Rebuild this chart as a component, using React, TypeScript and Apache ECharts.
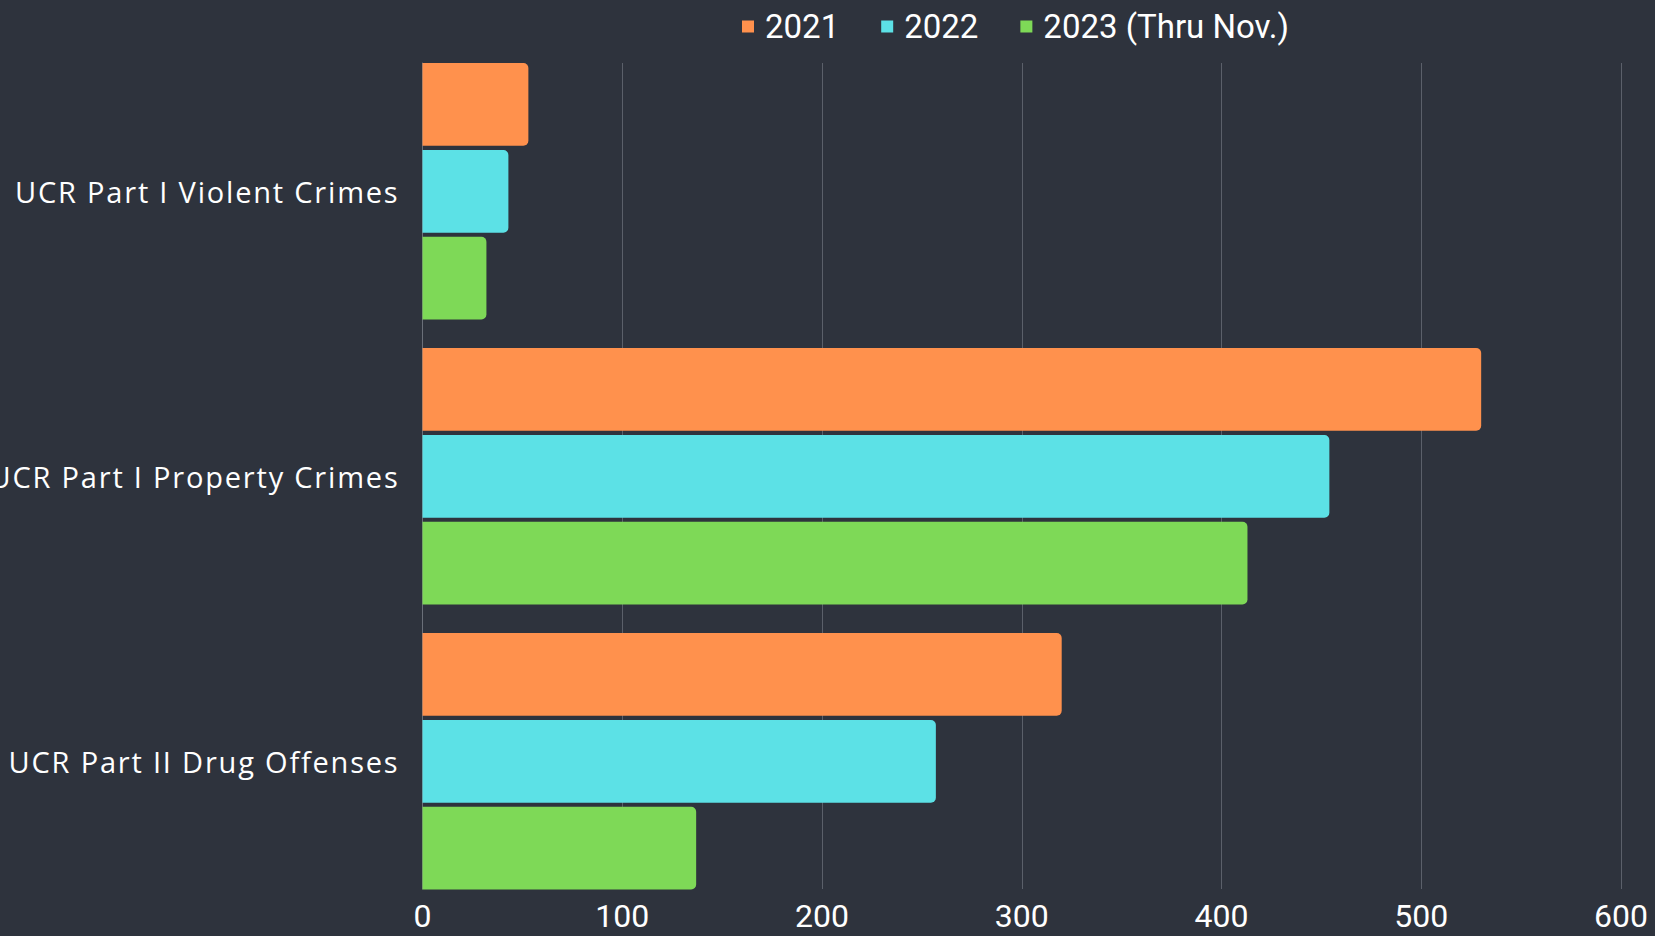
import React, { useEffect, useRef } from "react";
import * as echarts from "echarts";

const categories = [
  "UCR Part I Violent Crimes",
  "UCR Part I Property Crimes",
  "UCR Part II Drug Offenses",
];
const seriesNames = ["2021", "2022", "2023 (Thru Nov.)"];
const values2021 = [53, 530, 320];
const values2022 = [43, 454, 257];
const values2023 = [32, 413, 137];
const xTicks = { min: 0, max: 600, interval: 100 };
const colors = ["#FF914D", "#5CE1E6", "#7ED957"];

const FONT = "Roboto";
const CAT_FONT = "Open Sans";

export default function App() {
  const ref = useRef<HTMLDivElement>(null);
  useEffect(() => {
    if (!ref.current) return;
    const chart = echarts.init(ref.current, undefined, { renderer: "svg" });
    const seriesData = [values2021, values2022, values2023];
    chart.setOption({
      animation: false,
      backgroundColor: "#2e333d",
      textStyle: { fontFamily: FONT },
      legend: {
        top: 10,
        left: 742,
        padding: 0,
        icon: "rect",
        itemWidth: 12,
        itemHeight: 12,
        itemGap: 42,
        textStyle: { color: "#ffffff", fontSize: 33, fontFamily: FONT, padding: [0, 0, 0, 6] },
        data: seriesNames,
      },
      grid: [
        { left: 422.5, right: 34, top: 48.8, height: 855, containLabel: false },
        { left: 422.5, right: 34, top: 63, bottom: 47, containLabel: false },
      ],
      xAxis: [
        { type: "value", gridIndex: 0, ...xTicks, show: false },
        {
          type: "value",
          gridIndex: 1,
          ...xTicks,
          axisLine: { show: false },
          axisTick: { show: false },
          splitLine: { show: true, lineStyle: { color: "#5b606a", width: 1 } },
          axisLabel: { color: "#ffffff", fontSize: 32, fontFamily: FONT, margin: 11 },
        },
      ],
      yAxis: [
        {
          type: "category",
          gridIndex: 0,
          data: categories,
          inverse: true,
          axisLine: { show: false },
          axisTick: { show: false },
          splitLine: { show: false },
          axisLabel: {
            color: "#ffffff",
            fontSize: 29,
            fontFamily: CAT_FONT,
            margin: 23,
            padding: [0, 0, 4, 0],
          },
        },
        {
          type: "category",
          gridIndex: 1,
          data: categories,
          inverse: true,
          axisLine: { show: true, lineStyle: { color: "#6a6f79", width: 1 } },
          axisTick: { show: false },
          axisLabel: { show: false },
          splitLine: { show: false },
        },
      ],
      series: seriesNames.map((name, i) => ({
        name,
        type: "bar",
        xAxisIndex: 0,
        yAxisIndex: 0,
        data: seriesData[i],
        barCategoryGap: "10%",
        barGap: "5%",
        itemStyle: { color: colors[i], borderRadius: [0, 5, 5, 0] },
        z: 3,
      })),
    });
    return () => chart.dispose();
  }, []);
  return (
    <>
      <style>{`#crime-chart text[text-anchor="end"] { letter-spacing: 1.8px; }`}</style>
      <div
        id="crime-chart"
        ref={ref}
        style={{ position: "fixed", left: 0, top: 0, width: 1655, height: 936 }}
      />
    </>
  );
}
